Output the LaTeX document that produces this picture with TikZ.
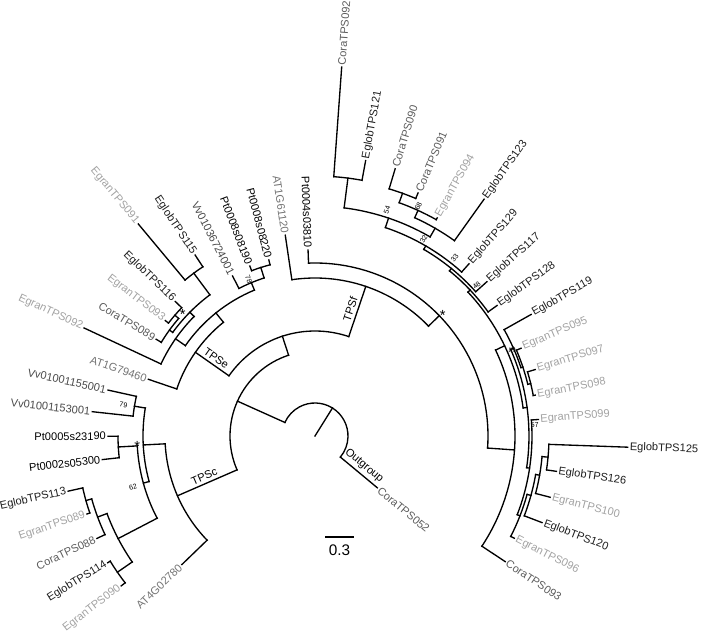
\documentclass[tikz,border=0pt]{standalone}
\usepackage{fontspec}
\setmainfont{Liberation Sans}
\usepackage{xcolor}

\definecolor{eglob}{HTML}{1E1E1E}
\definecolor{egran}{HTML}{A2A2A2}
\definecolor{cora}{HTML}{5C5C5C}
\definecolor{vvc}{HTML}{4A4A4A}
\definecolor{atc}{HTML}{747474}
\definecolor{ptc}{HTML}{000000}

% internal node: [line label]{name}{angle}{parent radius}{radius}{child angle 1}{child angle 2}
\newcommand{\cladenode}[7][]{%
  \coordinate (#2-b) at (#3:#4);
  \coordinate (#2) at (#3:#5);
  \if\relax\detokenize{#1}\relax
    \draw[brline] (#2-b) -- (#2);
  \else
    \draw[brline] (#2-b) -- node[cladelbl, midway, sloped, above] (#2-lbl) {#1} (#2);
  \fi
  \draw[brline] (#2) arc[start angle=#3, end angle=#6, radius=#5]
                (#2) arc[start angle=#3, end angle=#7, radius=#5];}
% leaves: {name}{angle}{base radius}{tip radius}{colour}
\newcommand{\leafR}[5]{%
  \coordinate (#1-b) at (#2:#3);
  \node[leaflabel, text=#5, rotate=#2, anchor=west] (#1) at (#2:#4) {#1};
  \draw[brline] (#1-b) -- (#1);}
\newcommand{\leafL}[5]{%
  \coordinate (#1-b) at (#2:#3);
  \node[leaflabel, text=#5, rotate=#2-180, anchor=east] (#1) at (#2:#4) {#1};
  \draw[brline] (#1-b) -- (#1);}

\begin{document}
\begin{tikzpicture}[x=0.75pt, y=0.75pt,
    brline/.style={line width=1pt, line cap=rect},
    leaflabel/.style={font=\fontsize{8.3}{9}\selectfont, inner sep=1.6pt, outer sep=0pt},
    cladelbl/.style={font=\fontsize{8.3}{9}\selectfont, inner sep=2pt},
    bootlbl/.style={font=\fontsize{5.3}{5.3}\selectfont, inner sep=0pt},
    bootstar/.style={font=\fontsize{11}{11}\selectfont, inner sep=0pt, yshift=-2.4pt}]
\useasboundingbox (-315,-196) rectangle (386,436);

% backbone
\cladenode{root}{58.04}{0}{33}{-39.72}{155.80}
\cladenode{ingrp}{155.80}{33}{85}{108.10}{203.50}
\coordinate (og-b) at (-39.72:33);
\node[leaflabel, text=cora, rotate=-39.72, anchor=west] (CoraTPS052) at (-39.72:81) {CoraTPS052};
\draw[brline] (og-b) -- node[cladelbl, midway, sloped, above] (og-lbl) {Outgroup} (CoraTPS052);

% TPS-c
\cladenode[TPSc]{tpsc}{203.50}{85}{150}{182.99}{224.00}
\leafL{AT4G02780}{224.00}{150}{185}{atc}
\cladenode{cstar}{182.99}{150}{172}{170.63}{195.35}
\cladenode{cvv}{170.63}{172}{183}{167.49}{173.77}
\leafL{Vv01001153001}{173.77}{183}{224}{vvc}
\leafL{Vv01001155001}{167.49}{183}{212}{vvc}
\cladenode{c62}{195.35}{172}{178}{183.19}{207.52}
\cladenode{cpt}{183.19}{178}{197}{180.05}{186.33}
\leafL{Pt0005s23190}{180.05}{197}{207}{ptc}
\leafL{Pt0002s05300}{186.33}{197}{214}{ptc}
\cladenode{ceg}{207.52}{178}{222}{200.45}{214.58}
\cladenode{cb}{200.45}{222}{232}{195.74}{205.16}
\leafL{CoraTPS088}{205.16}{232}{241}{cora}
\cladenode{ca}{195.74}{232}{238}{192.60}{198.88}
\leafL{EglobTPS113}{192.60}{238}{253}{eglob}
\leafL{EgranTPS089}{198.88}{238}{241}{egran}
\cladenode{cc}{214.58}{222}{240}{211.44}{217.72}
\leafL{EglobTPS114}{211.44}{240}{243}{eglob}
\leafL{EgranTPS090}{217.72}{240}{245}{egran}

% TPS-e and TPS-f
\cladenode{tpsef}{108.10}{85}{105}{71.24}{145.02}
\cladenode[TPSe]{tpse}{145.02}{105}{146}{128.84}{161.21}
\leafL{AT1G79460}{161.21}{146}{176}{atc}
\cladenode{erest}{128.84}{146}{158}{112.55}{145.12}
\cladenode{e3}{145.12}{158}{170}{135.31}{154.93}
\leafL{EgranTPS092}{154.93}{170}{255}{egran}
\cladenode{estar}{135.31}{170}{176}{126.67}{143.94}
\cladenode{e12}{143.94}{176}{180}{139.23}{148.65}
\leafL{CoraTPS089}{148.65}{180}{186}{cora}
\cladenode{e13}{139.23}{180}{185}{136.09}{142.37}
\leafL{EgranTPS093}{142.37}{185}{189}{egran}
\leafL{EglobTPS116}{136.09}{185}{194}{eglob}
\cladenode{e15}{126.67}{176}{203}{123.53}{129.81}
\leafL{EgranTPS091}{129.81}{203}{276}{egran}
\leafL{EglobTPS115}{123.53}{203}{217}{eglob}
\cladenode{e78}{112.55}{158}{166}{107.84}{117.26}
\leafL{Vv01036724001}{117.26}{166}{180}{vvc}
\cladenode{ept}{107.84}{166}{177}{104.70}{110.98}
\leafL{Pt0008s08190}{110.98}{177}{182}{ptc}
\leafL{Pt0008s08220}{104.70}{177}{182}{ptc}

\cladenode[TPSf]{tpsf}{71.24}{105}{158}{44.07}{98.42}
\leafL{AT1G61120}{98.42}{158}{203}{atc}
\cladenode{fstar}{44.07}{158}{173}{-4.00}{92.14}
\leafL{Pt0004s03810}{92.14}{173}{186}{ptc}
\cladenode{f3}{-4.00}{173}{200}{-33.44}{25.45}
\leafR{CoraTPS093}{-33.44}{200}{228}{cora}
\cladenode{f49}{25.45}{200}{210}{7.67}{43.24}
\cladenode{f48}{43.24}{210}{213}{35.63}{50.84}
\leafR{EglobTPS128}{35.63}{213}{224}{eglob}
\cladenode{f33}{50.84}{213}{216}{41.91}{59.77}
\leafR{EglobTPS117}{41.91}{216}{231}{eglob}
\cladenode{f32}{59.77}{216}{220}{48.19}{71.34}
\leafR{EglobTPS129}{48.19}{220}{231}{eglob}
\cladenode{f54}{71.34}{220}{230}{59.96}{82.72}
\cladenode{f22}{82.72}{230}{260}{79.58}{85.86}
\leafR{CoraTPS092}{85.86}{260}{370}{cora}
\leafR{EglobTPS121}{79.58}{260}{280}{eglob}
\cladenode{fx}{59.96}{230}{240}{54.47}{65.45}
\leafR{EglobTPS123}{54.47}{240}{291}{eglob}
\cladenode{f68}{65.45}{240}{248}{60.74}{70.16}
\leafR{EgranTPS094}{60.74}{248}{250}{egran}
\cladenode{f24}{70.16}{248}{258}{67.02}{73.30}
\leafR{CoraTPS090}{73.30}{258}{279}{cora}
\leafR{CoraTPS091}{67.02}{258}{264}{cora}
\cladenode{f57}{7.67}{210}{214}{-8.52}{23.86}
\cladenode{f31}{23.86}{214}{217}{18.36}{29.35}
\leafR{EglobTPS119}{29.35}{217}{248}{eglob}
\cladenode{f95}{18.36}{217}{219}{13.65}{23.07}
\leafR{EgranTPS095}{23.07}{219}{224}{egran}
\cladenode{f97}{13.65}{219}{222}{10.51}{16.79}
\leafR{EgranTPS097}{16.79}{222}{230}{egran}
\leafR{EgranTPS098}{10.51}{222}{224}{egran}
\cladenode{ft}{-8.52}{214}{217}{-21.27}{4.23}
\leafR{EgranTPS099}{4.23}{217}{224}{egran}
\cladenode{fg}{-21.27}{217}{220}{-27.16}{-15.39}
\leafR{EgranTPS096}{-27.16}{220}{224}{egran}
\cladenode{f120}{-15.39}{220}{224}{-20.88}{-9.90}
\leafR{EglobTPS120}{-20.88}{224}{243}{eglob}
\cladenode{f100}{-9.90}{224}{228}{-14.60}{-5.19}
\leafR{EgranTPS100}{-14.60}{228}{243}{egran}
\cladenode{f125}{-5.19}{228}{234}{-8.33}{-2.05}
\leafR{EglobTPS125}{-2.05}{234}{313}{eglob}
\leafR{EglobTPS126}{-8.33}{234}{244}{eglob}

% support values
\node[bootlbl, rotate=-9.2] (bs79) at (170.8:194) {79};
\node[bootlbl, rotate=15.6] (bs62) at (195.6:189) {62};
\node[bootlbl, rotate=-67] (bs78) at (113:170) {78};
\node[bootlbl, rotate=72.3] (bs54) at (72.3:237) {54};
\node[bootlbl, rotate=65.8] (bs68) at (65.8:252) {68};
\node[bootlbl, rotate=61.1] (bs32) at (61.1:225) {32};
\node[bootlbl, rotate=51.8] (bs33) at (51.8:226) {33};
\node[bootlbl, rotate=43] (bs48) at (43:221) {48};
\node[bootlbl, rotate=23.6] (bs49) at (23.6:215) {49};
\node[bootlbl, rotate=2.9] (bs57) at (2.9:220) {57};
\node[bootstar] (stc) at (182.3:178) {*};
\node[bootstar] (ste) at (136.6:182) {*};
\node[bootstar] (stf) at (44.1:178) {*};

% scale bar
\coordinate (sb-l) at (11,-101);
\coordinate (sb-r) at (38,-101);
\draw[brline] (sb-l) -- node[below=2pt, font=\fontsize{11.5}{12}\selectfont] (sblabel) {0.3} (sb-r);
\end{tikzpicture}
\end{document}
